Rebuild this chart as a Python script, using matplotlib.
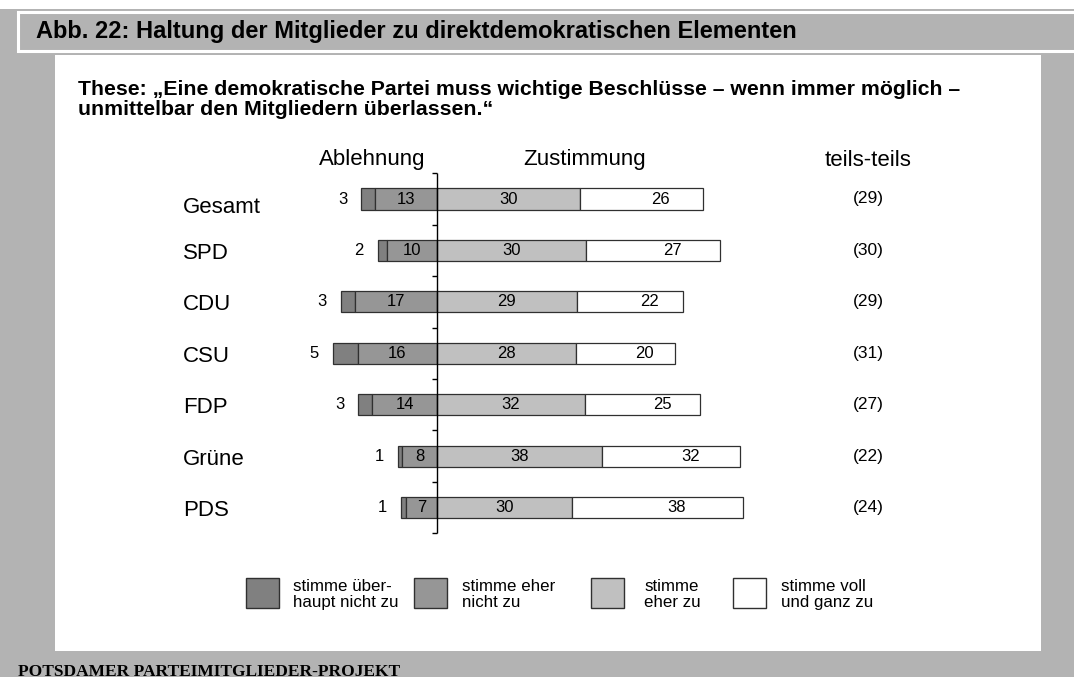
import numpy as np
import matplotlib
matplotlib.use("Agg")
import matplotlib.pyplot as plt
from matplotlib.patches import Rectangle

# data
categories = ["Gesamt", "SPD", "CDU", "CSU", "FDP", "Grüne", "PDS"]
ueberhaupt_nicht = [3, 2, 3, 5, 3, 1, 1]
eher_nicht = [13, 10, 17, 16, 14, 8, 7]
eher_zu = [30, 30, 29, 28, 32, 38, 30]
voll_zu = [26, 27, 22, 20, 25, 32, 38]
teils_teils = [29, 30, 29, 31, 27, 22, 24]
legend_labels = ["stimme über-\nhaupt nicht zu", "stimme eher\nnicht zu",
                 "stimme\neher zu", "stimme voll\nund ganz zu"]

W, H = 1074, 677
GRAY = "#b3b3b3"
seg_colors = ["#808080", "#969696", "#c0c0c0", "#ffffff"]
EDGE = "#303030"
SANS = "Liberation Sans"


def fx(x):
    return x / W


def fy(y):
    return 1 - y / H


fig = plt.figure(figsize=(W / 100, H / 100), dpi=100)
fig.patch.set_facecolor(GRAY)

# frame: white strip, title bar, white panel (behind the axes)
fig.patches.append(Rectangle((0, fy(9)), 1, 9 / H, transform=fig.transFigure,
                             facecolor="white", edgecolor="none", zorder=-10))
fig.patches.append(Rectangle((fx(18), fy(50.5)), fx(1100 - 18), 38 / H,
                             transform=fig.transFigure, facecolor=GRAY,
                             edgecolor="white", linewidth=2.2, zorder=-10))
fig.patches.append(Rectangle((fx(55), fy(651)), fx(1041 - 55), (651 - 55) / H,
                             transform=fig.transFigure, facecolor="white",
                             edgecolor="none", zorder=-10))

fig.text(fx(36), fy(31.5), "Abb. 22: Haltung der Mitglieder zu direktdemokratischen Elementen",
         family=SANS, weight="bold", fontsize=17, va="center", ha="left")
fig.text(fx(78), fy(99.5), "These: \u201eEine demokratische Partei muss wichtige Beschlüsse \u2013 wenn immer möglich \u2013\n"
         "unmittelbar den Mitgliedern überlassen.\u201c",
         family=SANS, weight="bold", fontsize=15.3, va="center", ha="left", linespacing=1.13)
fig.text(fx(18), fy(676), "POTSDAMER PARTEIMITGLIEDER-PROJEKT", family="Liberation Serif",
         weight="bold", fontsize=12.5, va="baseline", ha="left")

# bar chart axes, zero line at x=437px, rows 51.43px apart
ax = fig.add_axes([fx(55), fy(560), fx(1041 - 55), (560 - 140) / H])
ax.axis("off")
ppu = 3.42
ax.set_xlim(-(437 - 55) / ppu, (1041 - 437) / ppu)
row_px = 51.43
ax.set_ylim((560 - 199) / row_px, (140 - 199) / row_px)

# bars fill the row's four answers as 100 %
vals = np.array([ueberhaupt_nicht, eher_nicht, eher_zu, voll_zu], dtype=float)
shares = vals / vals.sum(axis=0) * 100
y = np.arange(len(categories))
bh = 0.41

left1 = -(shares[0] + shares[1])
left2 = -shares[1]
left3 = np.zeros(len(categories))
left4 = shares[2]
lefts = [left1, left2, left3, left4]
for k in range(4):
    ax.barh(y, shares[k], left=lefts[k], height=bh, color=seg_colors[k],
            edgecolor=EDGE, linewidth=0.9, zorder=2)

for i in range(len(categories)):
    ax.annotate(str(ueberhaupt_nicht[i]), (left1[i], y[i]), xytext=(-10, 0),
                textcoords="offset points", ha="right", va="center",
                family=SANS, fontsize=12)
    ax.text(left2[i] + shares[1][i] / 2, y[i], str(eher_nicht[i]), ha="center",
            va="center", family=SANS, fontsize=12, zorder=3)
    ax.text(shares[2][i] / 2, y[i], str(eher_zu[i]), ha="center",
            va="center", family=SANS, fontsize=12, zorder=3)
    ax.annotate(str(voll_zu[i]), (left4[i] + shares[3][i] / 2, y[i]), xytext=(14, 0),
                textcoords="offset points", ha="center", va="center",
                family=SANS, fontsize=12, zorder=3)
    ax.text((868 - 437) / ppu, y[i], "(%d)" % teils_teils[i],
            ha="center", va="center", family=SANS, fontsize=12.5)
    # first label sits a bit lower in the reference
    ax.text(-(437 - 183) / ppu, y[i] + (0.17 if i == 0 else 0.06), categories[i],
            ha="left", va="center", family=SANS, fontsize=16)

# centre axis with ticks between rows
edges = np.arange(len(categories) + 1) - 0.5
ax.vlines(0, edges[0], edges[-1], color="black", linewidth=1, zorder=4)
ax.hlines(edges, -5 / ppu, 0, color="black", linewidth=1, zorder=4)

# column headers
fig.text(fx(372), fy(160), "Ablehnung", family=SANS, fontsize=16, ha="center", va="center")
fig.text(fx(585), fy(160), "Zustimmung", family=SANS, fontsize=16, ha="center", va="center")
fig.text(fx(868), fy(160), "teils-teils", family=SANS, fontsize=16, ha="center", va="center")

# legend
box_x = [246, 414, 591, 733]
text_x = [293, 462, 644, 781]
for k in range(4):
    fig.patches.append(Rectangle((fx(box_x[k]), fy(608)), 33 / W, 30 / H,
                                 transform=fig.transFigure, facecolor=seg_colors[k],
                                 edgecolor=EDGE, linewidth=1))
    fig.text(fx(text_x[k]), fy(594.5), legend_labels[k], family=SANS, fontsize=12.2,
             ha="left", va="center", linespacing=1.1)

fig.savefig("out.png", dpi=100, facecolor=fig.get_facecolor())
